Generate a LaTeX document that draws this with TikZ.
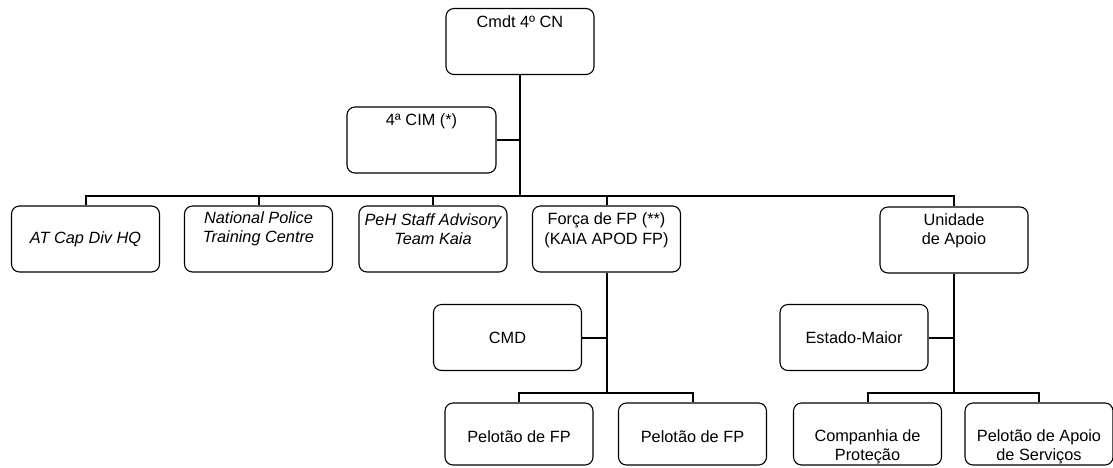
\documentclass[tikz,border=0pt]{standalone}
\usepackage{fontspec}
\setmainfont{Liberation Sans}
\begin{document}
\begin{tikzpicture}[x=1pt,y=-1pt,
  box/.style={draw=black, line width=1.1pt, rounded corners=8pt, minimum width=148pt, minimum height=66pt, inner sep=0pt},
  lowbox/.style={box, minimum height=62pt},
  txt/.style={font=\fontsize{16.3}{19.5}\selectfont, align=center, inner sep=0pt},
  itx/.style={font=\fontsize{16.3}{19.5}\selectfont\itshape, align=center, inner sep=0pt},
  link/.style={draw=black, line width=2pt}]
\useasboundingbox[fill=white] (0,0) rectangle (1113,467);

% boxes
\node[box] (cmdt) at (520,41.5) {};
\node[box, minimum width=149pt] (cim) at (421.5,140) {};
\node[box] (b1) at (85.5,239) {};
\node[box] (b2) at (258.5,239) {};
\node[box] (b3) at (433,239) {};
\node[box] (b4) at (606.5,239) {};
\node[box] (b5) at (954,240) {};
\node[box] (cmd) at (507.5,337.5) {};
\node[box] (em) at (854,337.5) {};
\node[lowbox] (p1) at (519,434) {};
\node[lowbox] (p2) at (692.5,434) {};
\node[lowbox] (cp) at (867.5,434) {};
\node[lowbox] (pa) at (1039,434) {};

% texts
\node[txt] (tcmdt) at ([yshift=-14pt]cmdt.north) {Cmdt 4º CN};
\node[txt] (tcim) at ([yshift=-15pt]cim.north) {4ª CIM (*)};
\node[itx] (tb1) at (b1.center) {AT Cap Div HQ};
\node[itx] (tb2) at ([yshift=-23.5pt]b2.north) {National Police\\Training Centre};
\node[itx] (tb3) at ([yshift=-23.5pt]b3.north) {PeH Staff Advisory\\Team Kaia};
\node[txt] (tb4) at ([yshift=-25pt]b4.north) {Força de FP (**)\\(KAIA APOD FP)};
\node[txt] (tb5) at ([yshift=-24.5pt]b5.north) {Unidade\\de Apoio};
\node[txt] (tcmd) at (cmd.center) {CMD};
\node[txt] (tem) at (em.center) {Estado-Maior};
\node[txt] (tp1) at ([yshift=-34pt]p1.north) {Pelotão de FP};
\node[txt] (tp2) at ([yshift=-34pt]p2.north) {Pelotão de FP};
\node[txt] (tcp) at ([yshift=-44.5pt]cp.north) {Companhia de\\Proteção};
\node[txt] (tpa) at ([yshift=-44.5pt]pa.north) {Pelotão de Apoio\\de Serviços};

% connectors
\coordinate (bus) at (520,196);
\coordinate (busA) at (606.5,393);
\coordinate (busB) at (954,393);
\draw[link] (cmdt.south) -- (bus);
\draw[link] (cim.east) -- (cim.east -| bus);
\draw[link] (b1.north) |- (b5.north |- bus) -- (b5.north);
\draw[link] (b2.north) -- (b2.north |- bus);
\draw[link] (b3.north) -- (b3.north |- bus);
\draw[link] (b4.north) -- (b4.north |- bus);

\draw[link] (b4.south) -- (busA);
\draw[link] (cmd.east) -- (cmd.east -| busA);
\draw[link] (p1.north) |- (p2.north |- busA) -- (p2.north);

\draw[link] (b5.south) -- (busB);
\draw[link] (em.east) -- (em.east -| busB);
\draw[link] (cp.north) |- (pa.north |- busB) -- (pa.north);
\end{tikzpicture}
\end{document}
